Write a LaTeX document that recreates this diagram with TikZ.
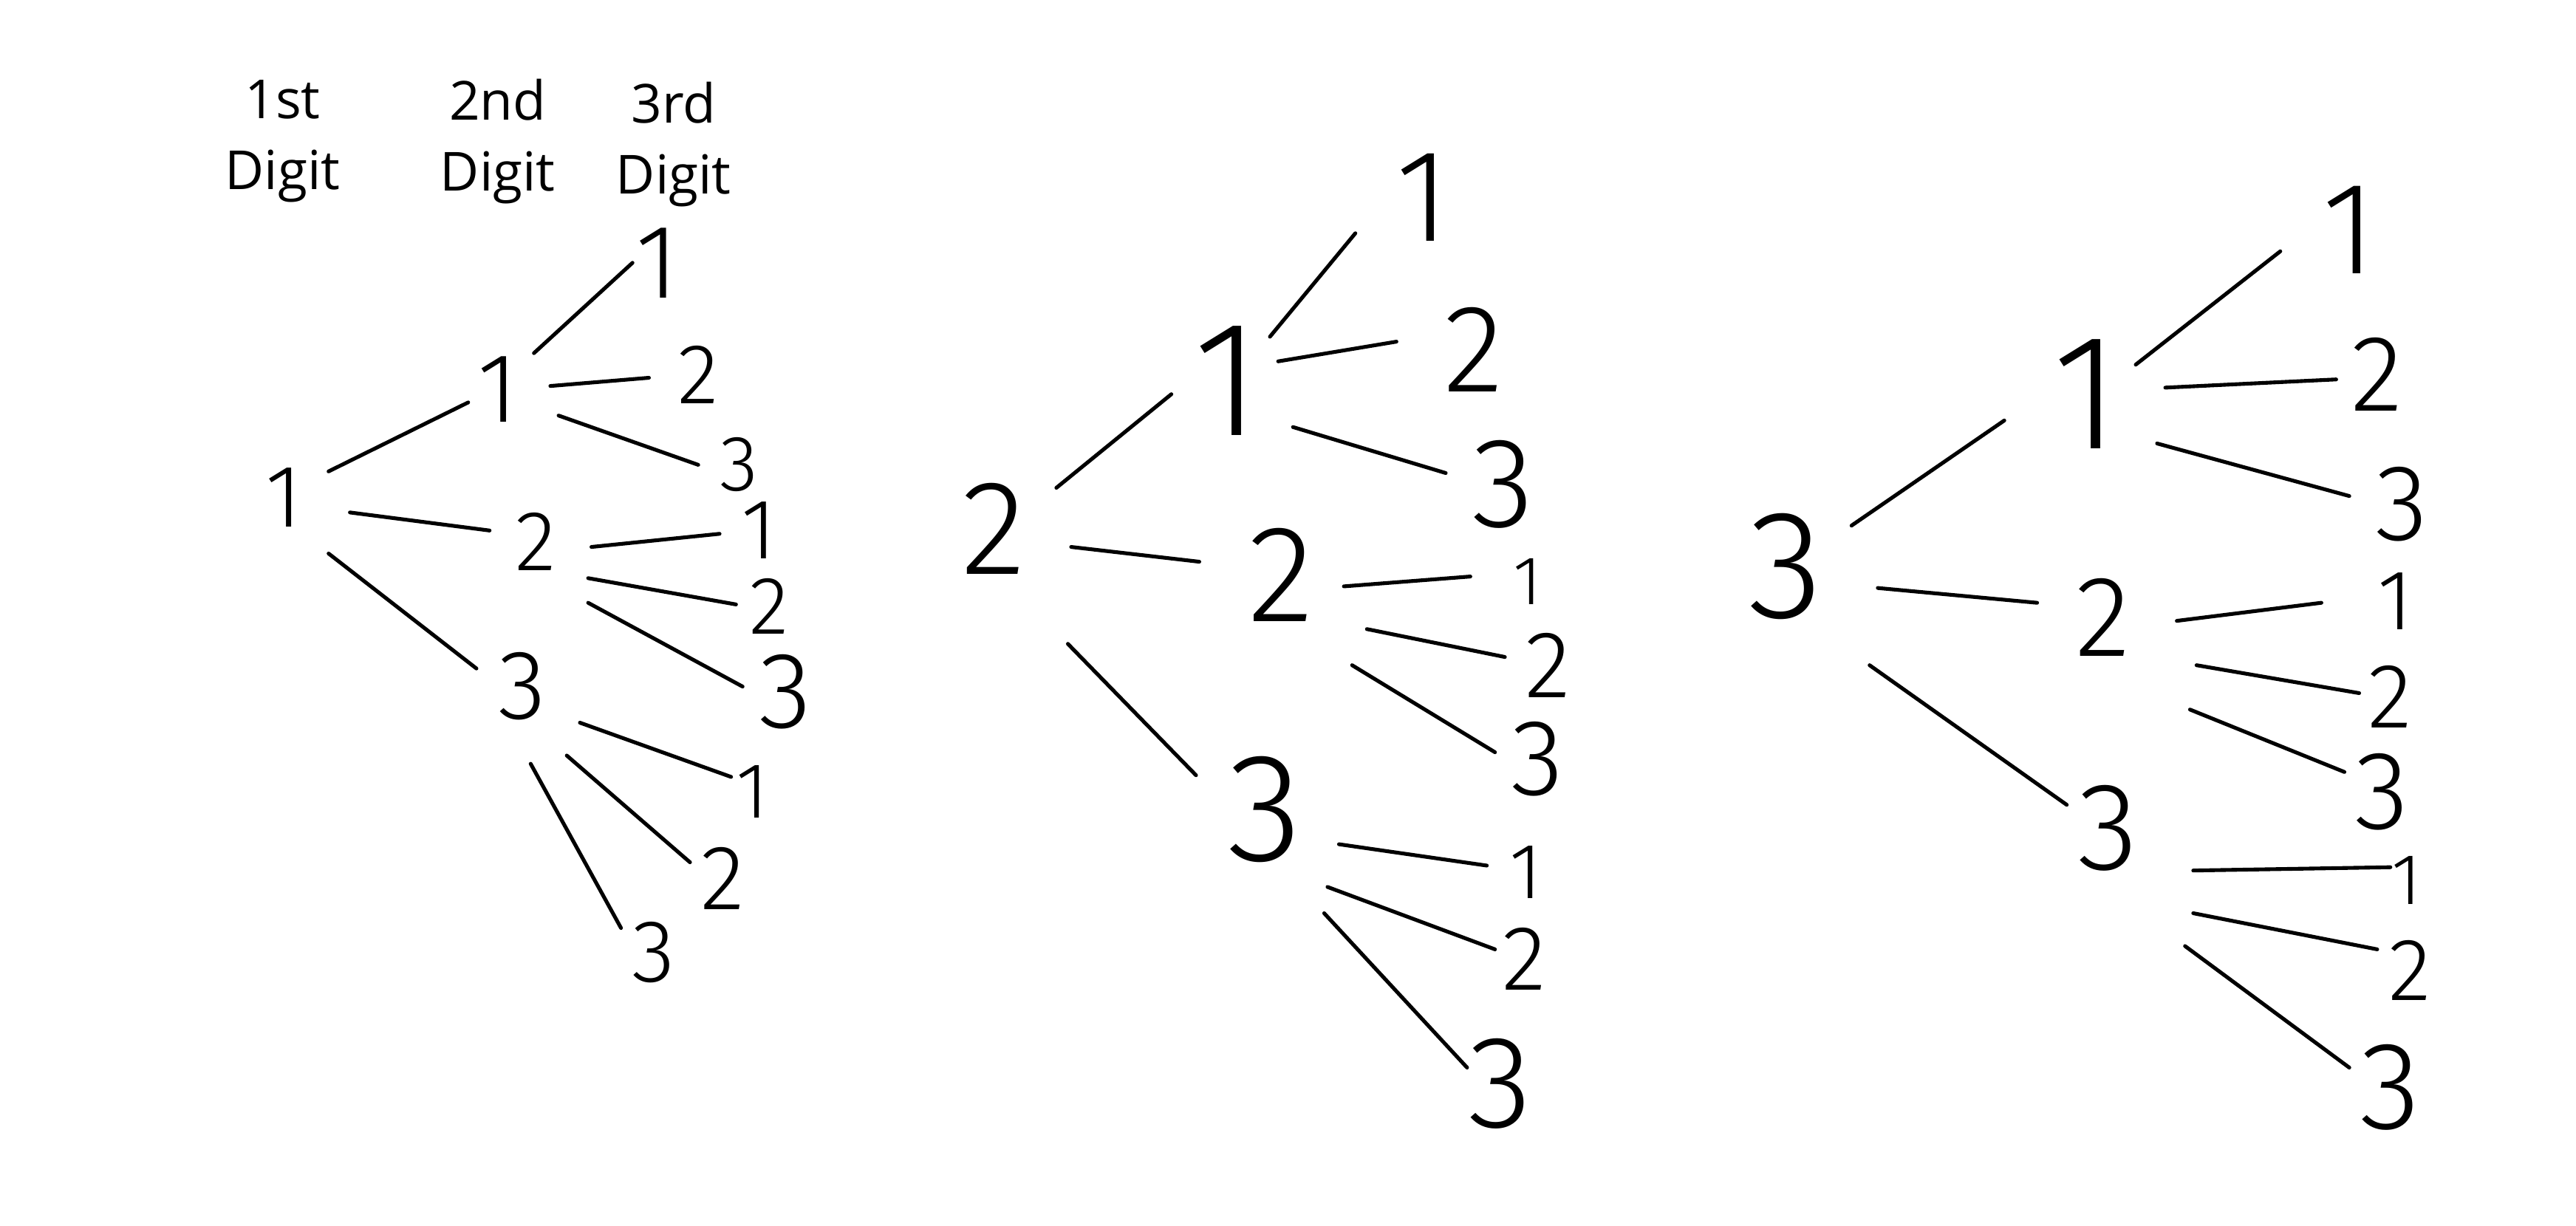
\documentclass[tikz,border=0pt]{standalone}
\usepackage{fontspec}
\setmainfont{Open Sans}
\IfFontExistsTF{Fira Sans Light}{\newfontfamily\hand{Fira Sans Light}}{\newfontfamily\hand{Fira Sans}}
\newcommand\brline[4]{\draw[br] ([shift={(#2)}]#1.center) -- ([shift={(#4)}]#3.center);}
\begin{document}
\begin{tikzpicture}[x=0.5pt,y=-0.5pt,
  dg/.style={font=\hand\fontsize{#1}{#1}\selectfont, inner sep=0pt, outer sep=0pt},
  br/.style={line width=1.15pt, line cap=round, line join=round},
  hdr/.style={font=\fontsize{16.4}{21.6}\selectfont, align=center}]
\useasboundingbox (0,0) rectangle (1568,746);
% headers
\node[hdr] (h1) at (172,86) {1st\\Digit};
\node[hdr] (h2) at (303,86) {2nd\\Digit};
\node[hdr] (h3) at (410,88) {3rd\\Digit};
% tree 1
\node[dg=27] (a0) at (173,303) {1};
\node[dg=30] (a1) at (303,237) {1};
\node[dg=26] (a2) at (326,330) {2};
\node[dg=30] (a3) at (318,418) {3};
\node[dg=32] (a11) at (400,160) {1};
\node[dg=26] (a12) at (425,228) {2};
\node[dg=24] (a13) at (450,283) {3};
\node[dg=26] (a21) at (462,323) {1};
\node[dg=25] (a22) at (468,369) {2};
\node[dg=33] (a23) at (478,421) {3};
\node[dg=24] (a31) at (458,482) {1};
\node[dg=28] (a32) at (440,535) {2};
\node[dg=27] (a33) at (398,580) {3};
% tree 2
\node[dg=41] (b0) at (605,322) {2};
\node[dg=50] (b1) at (747,232) {1};
\node[dg=42] (b2) at (780,350) {2};
\node[dg=47] (b3) at (770,493) {3};
\node[dg=40] (b11) at (866,120) {1};
\node[dg=38] (b12) at (897,213) {2};
\node[dg=39] (b13) at (915,295) {3};
\node[dg=21] (b21) at (930,354) {1};
\node[dg=29] (b22) at (942,405) {2};
\node[dg=33] (b23) at (936,462) {3};
\node[dg=24] (b31) at (929,531) {1};
\node[dg=28] (b32) at (928,584) {2};
\node[dg=40] (b33) at (913,660) {3};
% tree 3
\node[dg=47] (c0) at (1087,345) {3};
\node[dg=50] (c1) at (1270,240) {1};
\node[dg=35] (c2) at (1280,376) {2};
\node[dg=38] (c3) at (1283,504) {3};
\node[dg=40] (c11) at (1430,140) {1};
\node[dg=33] (c12) at (1447,228) {2};
\node[dg=33] (c13) at (1462,307) {3};
\node[dg=26] (c21) at (1458,366) {1};
\node[dg=28] (c22) at (1455,424) {2};
\node[dg=34] (c23) at (1450,482) {3};
\node[dg=22] (c31) at (1465,536) {1};
\node[dg=27] (c32) at (1467,591) {2};
\node[dg=38] (c33) at (1455,662) {3};
% branches, tree 1
\brline{a0}{27,-16}{a1}{-18,8}
\brline{a0}{40,9}{a2}{-28,-7}
\brline{a0}{27,34}{a3}{-28,-11}
\brline{a1}{22,-22}{a11}{-15,0}
\brline{a1}{32,-2}{a12}{-30,2}
\brline{a1}{37,16}{a13}{-25,0}
\brline{a2}{34,3}{a21}{-24,2}
\brline{a2}{32,22}{a22}{-20,-1}
\brline{a2}{32,37}{a23}{-26,-3}
\brline{a3}{35,22}{a31}{-13,-9}
\brline{a3}{27,42}{a32}{-20,-10}
\brline{a3}{5,47}{a33}{-20,-15}
% branches, tree 2
\brline{b0}{38,-25}{b1}{-34,8}
\brline{b0}{47,11}{b2}{-50,-8}
\brline{b0}{45,70}{b3}{-42,-21}
\brline{b1}{26,-27}{b11}{-41,22}
\brline{b1}{31,-12}{b12}{-47,-5}
\brline{b1}{40,28}{b13}{-35,-7}
\brline{b2}{38,7}{b21}{-35,-3}
\brline{b2}{52,33}{b22}{-26,-5}
\brline{b2}{43,55}{b23}{-26,-4}
\brline{b3}{45,21}{b31}{-24,-4}
\brline{b3}{38,47}{b32}{-18,-6}
\brline{b3}{36,63}{b33}{-20,-10}
% branches, tree 3
\brline{c0}{40,-25}{c1}{-50,16}
\brline{c0}{56,13}{c2}{-40,-9}
\brline{c0}{51,60}{c3}{-25,-14}
\brline{c1}{30,-18}{c11}{-42,13}
\brline{c1}{48,-4}{c12}{-25,3}
\brline{c1}{43,30}{c13}{-32,-5}
\brline{c2}{45,2}{c21}{-45,1}
\brline{c2}{57,29}{c22}{-19,-2}
\brline{c2}{53,56}{c23}{-23,-12}
\brline{c3}{52,26}{c31}{-10,-8}
\brline{c3}{52,52}{c32}{-20,-13}
\brline{c3}{47,72}{c33}{-25,-12}
\end{tikzpicture}
\end{document}
